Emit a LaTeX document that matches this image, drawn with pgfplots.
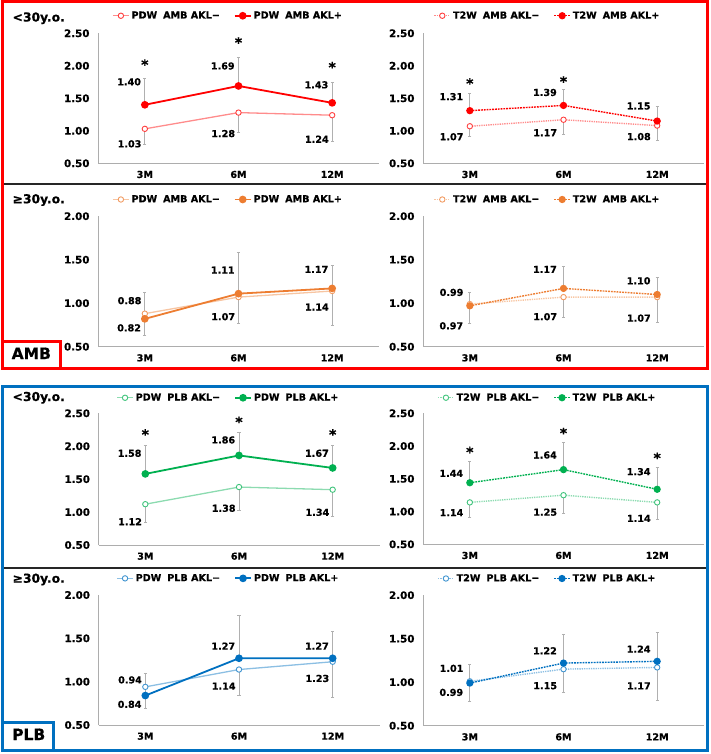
\documentclass[border=0pt]{standalone}
\usepackage{fontspec}
\setmainfont{DejaVu Sans}[BoldFeatures={FakeBold=0.6}]
\usepackage{pgfplots}
\pgfplotsset{compat=1.18}

\definecolor{cred}{HTML}{FF0000}
\definecolor{corange}{HTML}{ED7D31}
\definecolor{cgreen}{HTML}{00B050}
\definecolor{cblue}{HTML}{0070C0}
\definecolor{axisgray}{HTML}{ADADAD}
\definecolor{errgray}{HTML}{B0B0B0}

\newcommand{\lblfont}{\bfseries\fontsize{9.6}{10}\selectfont}

\tikzset{sig/.style={font=\bfseries\fontsize{14}{14}\selectfont, inner sep=0pt, yshift=-2pt}}

\pgfplotsset{
  panel/.style={
    anchor=south west, scale only axis, width=281pt,
    xmin=-0.5, xmax=2.5, xtick={0,1,2}, xticklabels={3M,6M,12M},
    axis lines=left, axis line style={-, draw=axisgray, line width=0.9pt},
    major tick length=0pt, clip=false,
    /pgf/number format/fixed, /pgf/number format/fixed zerofill,
    /pgf/number format/precision=2, /pgf/number format/assume math mode=true,
    yticklabel style={font=\bfseries\fontsize{10.3}{11}\selectfont, xshift=-5pt},
    xticklabel style={font=\lblfont, yshift=-4pt},
    legend columns=2, legend cell align=left,
    legend style={draw=none, fill=none, inner sep=0pt, anchor=west, font=\lblfont,
      /tikz/every even column/.append style={column sep=12pt}},
    legend image code/.code={\draw[mark repeat=2,mark phase=2,##1]
      plot coordinates {(0pt,0pt) (8pt,0pt) (16pt,0pt)};},
  },
  tall/.style={height=130pt, ymin=0.5, ymax=2.5, ytick={0.5,1,1.5,2,2.5}},
  short/.style={height=130.5pt, ymin=0.5, ymax=2.0, ytick={0.5,1,1.5,2}},
  lbl/.style={nodes near coords, point meta=y,
    visualization depends on={value \thisrow{dy} \as \dy},
    nodes near coords style={font=\lblfont, text=black, anchor=east,
      inner sep=0pt, xshift=#1, yshift=\dy pt}},
  errs/.style={
    error bars/y explicit,
    error bars/error bar style={solid, draw=errgray, line width=0.7pt},
    error bars/error mark options={solid, draw=errgray, line width=0.7pt, mark size=1.6pt, rotate=90}},
  neg/.style={color=#1!45, line width=1.3pt, mark=*, mark size=2.7pt,
    mark options={solid, fill=white, draw=#1!75, line width=0.9pt},
    errs, error bars/y dir=minus},
  pos/.style={color=#1, line width=1.8pt, mark=*, mark size=2.9pt,
    mark options={solid, fill=#1, draw=#1},
    errs, error bars/y dir=plus},
  dots/.style={densely dotted, line width=1.4pt},
}

\begin{document}
\begin{tikzpicture}
\useasboundingbox (0pt,0pt) rectangle (710pt,-754pt);

% ---------------- AMB, <30 ----------------
\begin{axis}[panel, tall, at={(98pt,-163.3pt)},
  legend style={at={(axis description cs:0.05,1.135)}}]
\addplot+[neg=cred, lbl=-3pt] table[x=x, y=y, y error minus=e] {
x y e dy
0 1.03 0.24 -15
1 1.28 0.30 -21
2 1.24 0.41 -24
};
\addlegendentry{PDW\hspace{6pt}AMB AKL−}
\addplot+[pos=cred, lbl=-3pt] table[x=x, y=y, y error plus=e] {
x y e dy
0 1.40 0.41 23
1 1.69 0.44 20
2 1.43 0.32 18
};
\addlegendentry{PDW\hspace{6pt}AMB AKL+}
\node[sig] at (axis cs:0,2.05) {*};
\node[sig] at (axis cs:1,2.39) {*};
\node[sig] at (axis cs:2,2.01) {*};
\end{axis}

\begin{axis}[panel, tall, at={(423pt,-163.3pt)},
  legend style={at={(axis description cs:0.037,1.135)}}]
\addplot+[neg=cred, dots, lbl=-6pt] table[x=x, y=y, y error minus=e] {
x y e dy
0 1.07 0.16 -10.5
1 1.17 0.22 -13
2 1.08 0.23 -11
};
\addlegendentry{T2W\hspace{6pt}AMB AKL−}
\addplot+[pos=cred, dots, lbl=-6pt] table[x=x, y=y, y error plus=e] {
x y e dy
0 1.31 0.27 14
1 1.39 0.24 13
2 1.15 0.23 15
};
\addlegendentry{T2W\hspace{6pt}AMB AKL+}
\node[sig] at (axis cs:0,1.76) {*};
\node[sig] at (axis cs:1,1.79) {*};
\end{axis}

% ---------------- AMB, >=30 ----------------
\begin{axis}[panel, short, at={(98pt,-346.7pt)},
  legend style={at={(axis description cs:0.05,1.128)}}]
\addplot+[neg=corange, lbl=-3pt] table[x=x, y=y, y error minus=e] {
x y e dy
0 0.88 0.25 13
1 1.07 0.30 -19.6
2 1.14 0.40 -16
};
\addlegendentry{PDW\hspace{6pt}AMB AKL−}
\addplot+[pos=corange, lbl=-3pt] table[x=x, y=y, y error plus=e] {
x y e dy
0 0.82 0.31 -9
1 1.11 0.47 23.6
2 1.17 0.26 19
};
\addlegendentry{PDW\hspace{6pt}AMB AKL+}
\end{axis}

\begin{axis}[panel, short, at={(423pt,-346.7pt)},
  legend style={at={(axis description cs:0.037,1.128)}}]
\addplot+[neg=corange, dots, lbl=-6pt] table[x=x, y=y, y error minus=e] {
x y e dy
0 0.99 0.22 11.7
1 1.07 0.23 -19.6
2 1.07 0.29 -21
};
\addlegendentry{T2W\hspace{6pt}AMB AKL−}
\addplot+[pos=corange, dots, lbl=-6pt] table[x=x, y=y, y error plus=e] {
x y e dy
0 0.97 0.15 -20
1 1.17 0.25 19
2 1.10 0.20 13.7
};
\addlegendentry{T2W\hspace{6pt}AMB AKL+}
\end{axis}

% ---------------- PLB, <30 ----------------
\begin{axis}[panel, tall, height=131.7pt, at={(98.5pt,-545pt)},
  legend style={at={(axis description cs:0.063,1.118)}}]
\addplot+[neg=cgreen, lbl=-3pt] table[x=x, y=y, y error minus=e] {
x y e dy
0 1.12 0.27 -17.5
1 1.38 0.36 -21.2
2 1.34 0.40 -22.6
};
\addlegendentry{PDW\hspace{6pt}PLB AKL−}
\addplot+[pos=cgreen, lbl=-3pt] table[x=x, y=y, y error plus=e] {
x y e dy
0 1.58 0.43 20.6
1 1.86 0.35 15.5
2 1.67 0.34 14.7
};
\addlegendentry{PDW\hspace{6pt}PLB AKL+}
\node[sig] at (axis cs:0,2.21) {*};
\node[sig] at (axis cs:1,2.40) {*};
\node[sig] at (axis cs:2,2.21) {*};
\end{axis}

\begin{axis}[panel, tall, height=131pt, at={(423pt,-544.3pt)},
  legend style={at={(axis description cs:0.05,1.119)}}]
\addplot+[neg=cgreen, dots, lbl=-6pt] table[x=x, y=y, y error minus=e] {
x y e dy
0 1.14 0.23 -10.3
1 1.25 0.28 -17
2 1.14 0.26 -16
};
\addlegendentry{T2W\hspace{6pt}PLB AKL−}
\addplot+[pos=cgreen, dots, lbl=-6pt] table[x=x, y=y, y error plus=e] {
x y e dy
0 1.44 0.32 9.4
1 1.64 0.42 14.6
2 1.34 0.33 17.6
};
\addlegendentry{T2W\hspace{6pt}PLB AKL+}
\node[sig] at (axis cs:0,1.94) {*};
\node[sig] at (axis cs:1,2.23) {*};
\node[sig] at (axis cs:2,1.85) {*};
\end{axis}

% ---------------- PLB, >=30 ----------------
\begin{axis}[panel, short, height=130pt, at={(98.5pt,-725pt)},
  legend style={at={(axis description cs:0.063,1.128)}}]
\addplot+[neg=cblue, lbl=-3pt] table[x=x, y=y, y error minus=e] {
x y e dy
0 0.94 0.25 7
1 1.14 0.30 -16.5
2 1.23 0.41 -16.7
};
\addlegendentry{PDW\hspace{6pt}PLB AKL−}
\addplot+[pos=cblue, lbl=-3pt] table[x=x, y=y, y error plus=e] {
x y e dy
0 0.84 0.26 -8.8
1 1.27 0.50 12.2
2 1.27 0.31 12.2
};
\addlegendentry{PDW\hspace{6pt}PLB AKL+}
\end{axis}

\begin{axis}[panel, short, at={(423pt,-725.7pt)},
  legend style={at={(axis description cs:0.05,1.128)}}]
\addplot+[neg=cblue, dots, lbl=-6pt] table[x=x, y=y, y error minus=e] {
x y e dy
0 1.01 0.23 13
1 1.15 0.27 -16.6
2 1.17 0.38 -18.4
};
\addlegendentry{T2W\hspace{6pt}PLB AKL−}
\addplot+[pos=cblue, dots, lbl=-6pt] table[x=x, y=y, y error plus=e] {
x y e dy
0 0.99 0.21 -9.3
1 1.22 0.33 12.3
2 1.24 0.33 12.2
};
\addlegendentry{T2W\hspace{6pt}PLB AKL+}
\end{axis}

% ---------------- frames and titles ----------------
\begin{scope}[font=\bfseries\fontsize{12.3}{13}\selectfont]
\node[anchor=base west, inner sep=0pt] at (12.5pt,-21.5pt) {<30y.o.};
\node[anchor=base west, inner sep=0pt] at (12.5pt,-203.3pt) {≥30y.o.};
\node[anchor=base west, inner sep=0pt] at (12.5pt,-401pt) {<30y.o.};
\node[anchor=base west, inner sep=0pt] at (12.5pt,-582.7pt) {≥30y.o.};
\end{scope}
\draw[line width=2pt, black!85] (3pt,-184pt) -- (706pt,-184pt);
\draw[line width=2pt, black!85] (3pt,-567.7pt) -- (706pt,-567.7pt);
\draw[cred, line width=3pt] (2pt,-2pt) rectangle (707pt,-368pt);
\draw[cblue, line width=3pt] (2pt,-386pt) rectangle (707pt,-750pt);
\draw[cred, line width=3pt] (2pt,-341pt) rectangle (60pt,-368pt);
\draw[cblue, line width=3pt] (2pt,-722pt) rectangle (53pt,-750pt);
\node[anchor=base west, inner sep=0pt, font=\bfseries\fontsize{15.5}{16}\selectfont] at (11.5pt,-359pt) {AMB};
\node[anchor=base west, inner sep=0pt, font=\bfseries\fontsize{15.5}{16}\selectfont] at (12pt,-740pt) {PLB};
\end{tikzpicture}
\end{document}
